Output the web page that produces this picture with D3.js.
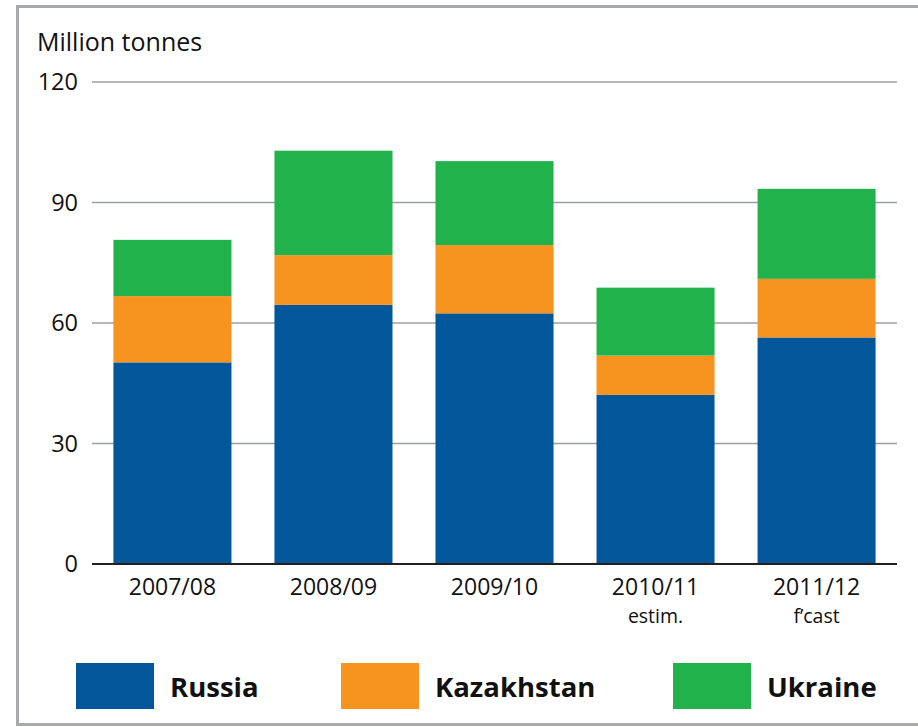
<!DOCTYPE html>
<html>
<head>
    <meta charset="utf-8">
    <title>Million tonnes</title>
    <script src="https://d3js.org/d3.v7.min.js"></script>
    <style>
        body { margin: 0; background: #fff; }
        text { font-family: "Open Sans", "Noto Sans", sans-serif; fill: #111; }
        .title { font-size: 25px; }
        .tick-label { font-size: 23.5px; }
        .x-label { font-size: 23px; }
        .sub-label { font-size: 19.5px; }
        .legend-label { font-size: 27.5px; font-weight: bold; }
    </style>
</head>
<body>
    <div id="chart"></div>
    <script>
        // data
        const seasons = ["2007/08", "2008/09", "2009/10", "2010/11", "2011/12"];
        const notes = ["", "", "", "estim.", "f\u2019cast"];
        const russia = [50.2, 64.5, 62.4, 42.1, 56.4];
        const kazakhstan = [16.5, 12.4, 17.0, 9.8, 14.6];
        const ukraine = [14.0, 26.0, 20.9, 16.9, 22.4];
        const seriesNames = ["Russia", "Kazakhstan", "Ukraine"];
        const yTicks = [0, 30, 60, 90, 120];

        const W = 918, H = 727;
        const colors = {Russia: "#02569a", Kazakhstan: "#f6941f", Ukraine: "#22b24c"};

        const svg = d3.select("#chart").append("svg")
            .attr("width", W).attr("height", H);

        // frame
        svg.append("path")
            .attr("d", `M ${W + 5} 6.5 H 17.5 V 724.5 H ${W + 5}`)
            .attr("fill", "none")
            .attr("stroke", "#a7a9ac")
            .attr("stroke-width", 3);

        const x = d3.scaleBand()
            .domain(seasons)
            .range([92, 897])
            .paddingInner(0.267)
            .paddingOuter(0.133);

        const y = d3.scaleLinear()
            .domain([0, 120])
            .range([564, 82]);

        // grid lines
        svg.selectAll(".grid")
            .data(yTicks.filter(d => d > 0))
            .enter().append("line")
            .attr("class", "grid")
            .attr("x1", 92).attr("x2", 897)
            .attr("y1", d => y(d)).attr("y2", d => y(d))
            .attr("stroke", "#9d9fa2")
            .attr("stroke-width", 1.6);

        // y tick labels
        svg.selectAll(".ylab")
            .data(yTicks)
            .enter().append("text")
            .attr("class", "tick-label")
            .attr("x", 78)
            .attr("y", d => y(d))
            .attr("dy", "0.36em")
            .attr("text-anchor", "end")
            .text(d => d);

        svg.append("text")
            .attr("class", "title")
            .attr("x", 37).attr("y", 51)
            .text("Million tonnes");

        // stacked bars
        const rows = seasons.map((s, i) => ({
            season: s, Russia: russia[i], Kazakhstan: kazakhstan[i], Ukraine: ukraine[i]
        }));
        const stacked = d3.stack().keys(seriesNames)(rows);

        svg.selectAll(".series")
            .data(stacked)
            .enter().append("g")
            .attr("fill", d => colors[d.key])
            .selectAll("rect")
            .data(d => d)
            .enter().append("rect")
            .attr("x", d => x(d.data.season))
            .attr("width", x.bandwidth())
            .attr("y", d => y(d[1]))
            .attr("height", d => y(d[0]) - y(d[1]));

        // baseline
        svg.append("line")
            .attr("x1", 92).attr("x2", 897)
            .attr("y1", y(0)).attr("y2", y(0))
            .attr("stroke", "#231f20")
            .attr("stroke-width", 2);

        // x labels
        svg.selectAll(".xlab")
            .data(seasons)
            .enter().append("text")
            .attr("class", "x-label")
            .attr("x", d => x(d) + x.bandwidth() / 2)
            .attr("y", 595)
            .attr("text-anchor", "middle")
            .text(d => d);

        svg.selectAll(".xnote")
            .data(seasons)
            .enter().append("text")
            .attr("class", "sub-label")
            .attr("x", d => x(d) + x.bandwidth() / 2)
            .attr("y", 623)
            .attr("text-anchor", "middle")
            .text((d, i) => notes[i]);

        // legend
        const legendX = [76, 341, 673];
        const legend = svg.selectAll(".legend")
            .data(seriesNames)
            .enter().append("g")
            .attr("transform", (d, i) => `translate(${legendX[i]},663)`);

        legend.append("rect")
            .attr("width", 78).attr("height", 46)
            .attr("fill", d => colors[d]);

        legend.append("text")
            .attr("class", "legend-label")
            .attr("x", 94).attr("y", 34)
            .text(d => d);
    </script>
</body>
</html>
